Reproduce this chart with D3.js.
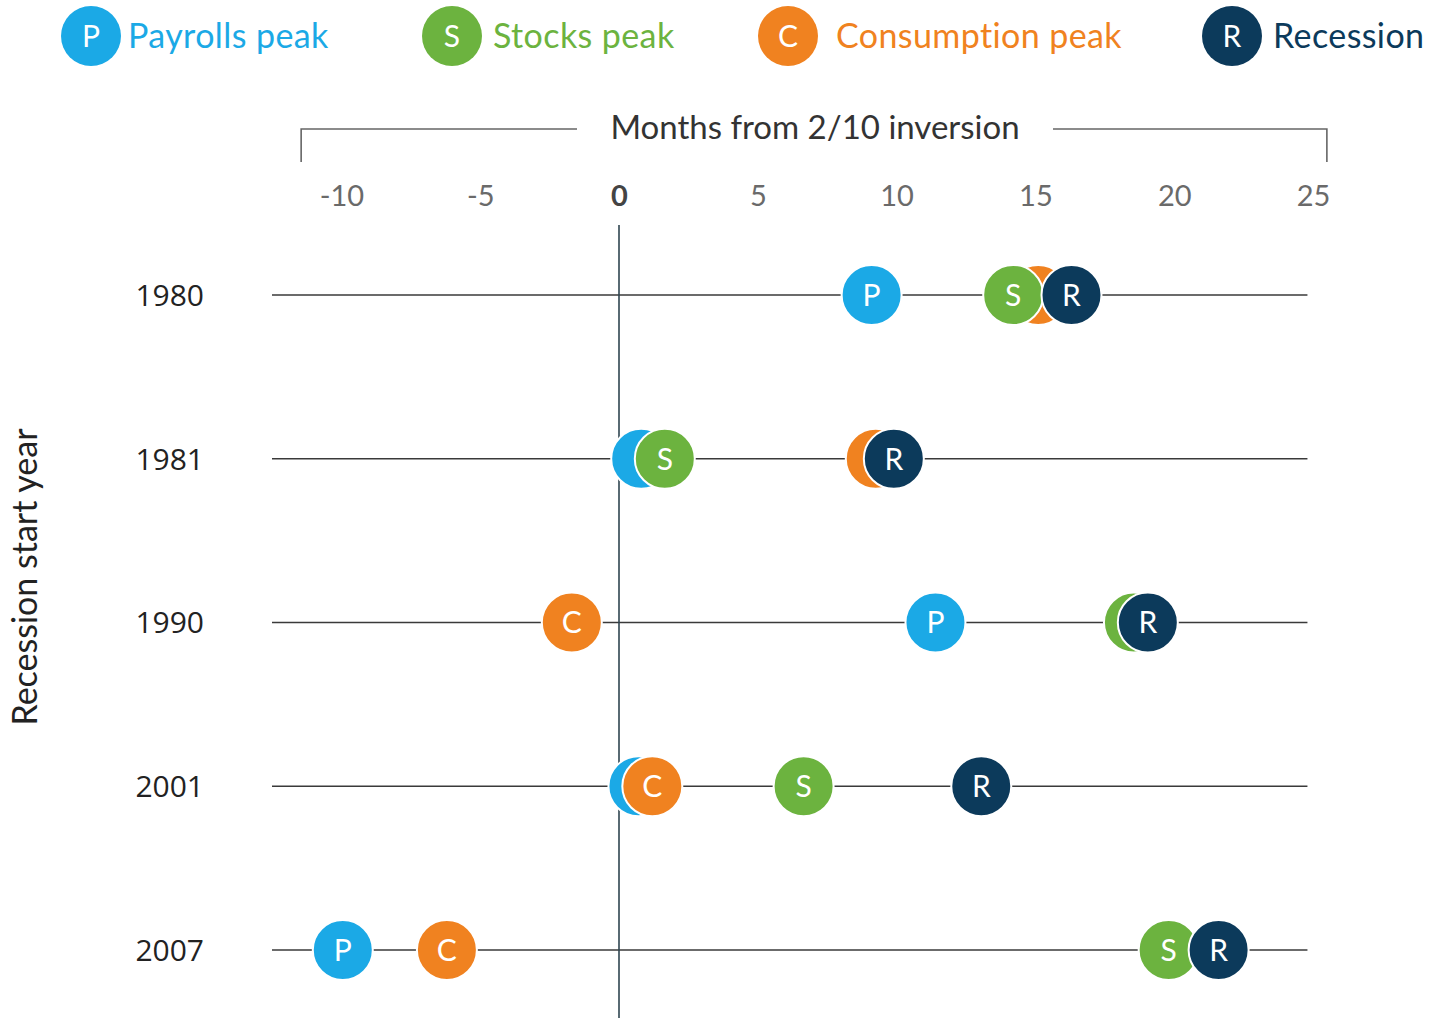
<!DOCTYPE html>
<html>
<head>
<meta charset="utf-8">
<script src="https://cdn.jsdelivr.net/npm/d3@7"></script>
<style>
  html, body { margin: 0; padding: 0; background: #ffffff; }
  svg { display: block; font-family: Lato, "Open Sans", sans-serif; }
</style>
</head>
<body>
<svg id="chart" width="1429" height="1018"></svg>
<script>
// ---- data ----
const years = ["1980", "1981", "1990", "2001", "2007"];
const seriesKeys = ["P", "C", "S", "R"]; // drawing order (later on top)
const seriesNames = { P: "Payrolls peak", S: "Stocks peak", C: "Consumption peak", R: "Recession" };
const legendOrder = ["P", "S", "C", "R"];
const payrolls    = [9.1, 0.8, 11.4, 0.7, -9.95];
const stocks      = [14.2, 1.65, 18.55, 6.65, 19.8];
const consumption = [15.1, 9.25, -1.7, 1.2, -6.2];
const recession   = [16.3, 9.9, 19.05, 13.05, 21.6];
const xTicks = [-10, -5, 0, 5, 10, 15, 20, 25];
const xTitle = "Months from 2/10 inversion";
const yTitle = "Recession start year";

const colors = { P: "#1ba9e6", S: "#6cb33f", C: "#f08220", R: "#0c3a5b" };
const values = { P: payrolls, S: stocks, C: consumption, R: recession };

const svg = d3.select("#chart");

const x = d3.scaleLinear().domain([0, 25]).range([619, 1313]);
const y = d3.scalePoint().domain(years).range([295, 950]);
const r = 30;

// ---- legend ----
const legendX = [91, 452, 788, 1232];
const legendTextX = [128, 493, 836, 1273];
const lg = svg.append("g");
legendOrder.forEach((k, i) => {
  const g = lg.append("g").attr("transform", `translate(${legendX[i]},36)`);
  g.append("circle").attr("r", r).attr("fill", colors[k]);
  g.append("text").attr("text-anchor", "middle").attr("dy", "0.36em")
    .attr("fill", "#fff").attr("font-size", 30).text(k);
  lg.append("text").attr("x", legendTextX[i]).attr("y", 36).attr("dy", "0.36em")
    .attr("fill", colors[k]).attr("font-size", 34).attr("letter-spacing", 0.4)
    .text(seriesNames[k]);
});

// ---- top bracket + title ----
const bx0 = x(-11.45), bx1 = x(25.5);
const titleCx = 815;
const bracket = svg.append("g").attr("stroke", "#666").attr("stroke-width", 1.6).attr("fill", "none");
bracket.append("path").attr("d", `M${bx0},162V129H${577}`);
bracket.append("path").attr("d", `M${1053},129H${bx1}V162`);
svg.append("text").attr("x", titleCx).attr("y", 127).attr("dy", "0.36em")
  .attr("text-anchor", "middle").attr("font-size", 33).attr("fill", "#333").text(xTitle);

// ---- x axis ticks ----
const xAxis = d3.axisTop(x).tickValues(xTicks).tickSize(0).tickPadding(0).tickFormat(d => String(d));
const ax = svg.append("g").attr("transform", "translate(0,196)").call(xAxis);
ax.select(".domain").remove();
ax.selectAll("text")
  .attr("dy", "0.36em").attr("y", 0)
  .attr("font-family", "Lato, 'Open Sans', sans-serif")
  .attr("font-size", 29)
  .attr("fill", d => d === 0 ? "#444" : "#6a6a6a")
  .attr("font-weight", d => d === 0 ? "bold" : "normal");

// ---- row lines ----
svg.append("g").selectAll("line").data(years).join("line")
  .attr("x1", x(-12.5)).attr("x2", x(24.8))
  .attr("y1", d => y(d)).attr("y2", d => y(d))
  .attr("stroke", "#3a3a3a").attr("stroke-width", 1.5);

// ---- zero line ----
svg.append("line").attr("x1", x(0)).attr("x2", x(0))
  .attr("y1", 225).attr("y2", 1018)
  .attr("stroke", "#2f4550").attr("stroke-width", 1.6);

// ---- year labels ----
svg.append("g").selectAll("text").data(years).join("text")
  .attr("x", 204).attr("y", d => y(d)).attr("dy", "0.36em")
  .attr("text-anchor", "end").attr("font-size", 30).attr("fill", "#222")
  .attr("font-family", "'Open Sans', Lato, sans-serif")
  .text(d => d);

// ---- y title ----
svg.append("text")
  .attr("transform", "translate(25,577) rotate(-90)")
  .attr("text-anchor", "middle").attr("dy", "0.36em")
  .attr("font-size", 34).attr("fill", "#222").text(yTitle);

// ---- markers ----
const marks = svg.append("g");
years.forEach((yr, i) => {
  seriesKeys.forEach((k, j) => {
    const cx = x(values[k][i]);
    const g = marks.append("g").attr("transform", `translate(${cx},${y(yr)})`);
    g.append("circle").attr("r", r).attr("fill", colors[k]).attr("stroke", "#fff").attr("stroke-width", 2);
    // letter is hidden when a circle drawn later covers this circle's centre
    const covered = seriesKeys.slice(j + 1).some(k2 => Math.abs(x(values[k2][i]) - cx) < r);
    if (!covered) {
      g.append("text").attr("text-anchor", "middle").attr("dy", "0.36em")
        .attr("fill", "#fff").attr("font-size", 30).text(k);
    }
  });
});
</script>
</body>
</html>
